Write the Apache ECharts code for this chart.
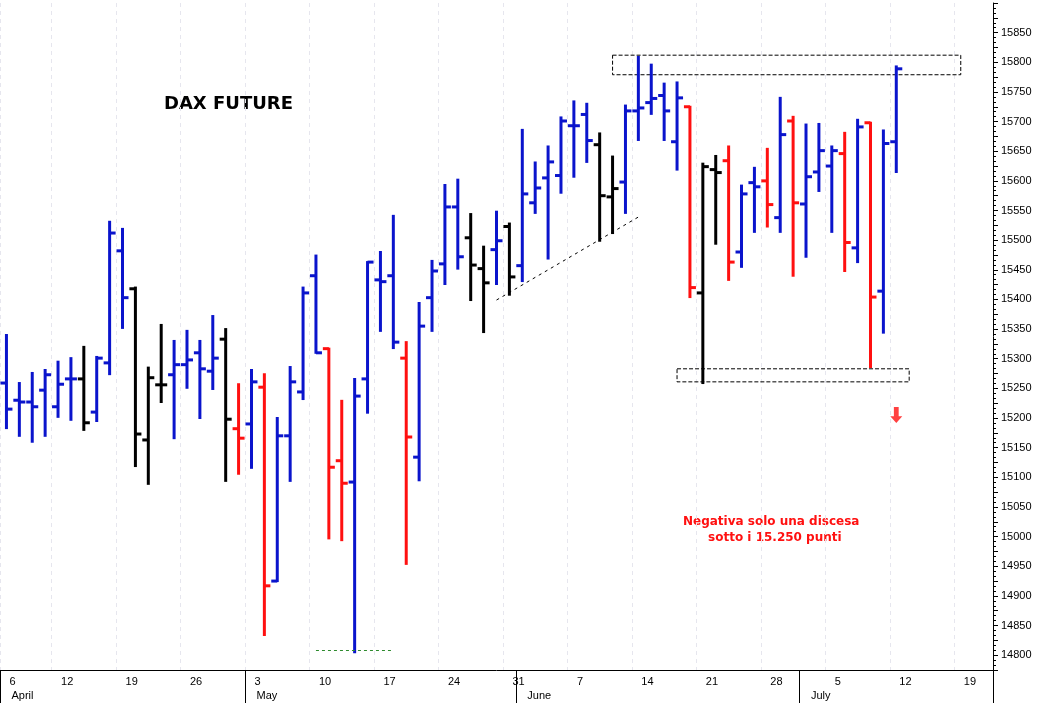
<!DOCTYPE html>
<html>
<head>
<meta charset="utf-8">
<script src="https://cdn.jsdelivr.net/npm/echarts@6/dist/echarts.min.js"></script>
<style>html,body{margin:0;padding:0;background:#fff}#chart{width:1042px;height:703px}</style>
</head>
<body>
<div id="chart"></div>
<script>
// bars: open, close, high, low
var opens  = [15259,15230,15227,15247,15219,15266,15266,15210,15293,15482,15418,15163,15256,15273,15290,15310,15279,15333,15182,
              15190,15252,14925,15170,15244,15440,15317,15128,15092,15266,15433,15440,15301,15134,15403,15460,15556,15504,15452,15484,15523,
              15457,15563,15605,15609,15693,15712,15661,15573,15598,15718,15732,15744,15666,15725,15411,15619,15634,15480,15597,15600,
              15538,15701,15561,15615,15625,15646,15487,15698,15414,15666];
var closes = [15215,15227,15219,15273,15257,15266,15192,15301,15512,15403,15173,15268,15256,15290,15298,15283,15301,15198,15166,
              15261,14917,15170,15261,15411,15310,15117,15090,15237,15463,15430,15328,15168,15355,15448,15556,15472,15458,15428,15499,15438,
              15578,15588,15632,15701,15693,15668,15575,15587,15718,15723,15739,15718,15740,15420,15624,15614,15463,15578,15590,15560,
              15678,15563,15607,15651,15651,15496,15691,15404,15663,15789];
var highs  = [15340,15259,15276,15281,15295,15301,15320,15303,15531,15519,15420,15285,15357,15330,15347,15330,15372,15350,15257,
              15281,15274,15200,15286,15420,15474,15317,15229,15266,15463,15480,15541,15328,15394,15465,15593,15602,15544,15489,15548,15528,
              15686,15631,15658,15707,15734,15730,15680,15641,15727,15809,15796,15764,15766,15725,15629,15642,15658,15592,15622,15654,
              15740,15708,15695,15696,15658,15681,15703,15698,15685,15793];
var lows   = [15183,15170,15160,15170,15202,15197,15180,15195,15274,15352,15119,15089,15227,15166,15251,15200,15249,15094,15106,
              15116,14834,14925,15094,15232,15310,14997,14994,14805,15209,15347,15318,14954,15095,15347,15426,15452,15399,15345,15426,15408,
              15431,15546,15469,15580,15607,15632,15499,15512,15546,15669,15713,15669,15619,15404,15259,15494,15433,15455,15514,15523,
              15514,15440,15472,15583,15514,15448,15463,15286,15344,15615];
var barColors = 'bbbbbbkbbbkkkbbbbkr' + 'brbbbbrrbbbbrbbbbkkbk' + 'bbbbbbkkbbbbbrkkrbbrbrbbbrbrbb';
var palette = {b: '#0a14cc', r: '#ff1010', k: '#000000'};
var monthNames = ['January','February','March','April','May','June','July','August'];

// trading days (weekdays) from 6 April to 21 July 2021
var dates = [];
for (var d = new Date(Date.UTC(2021, 3, 6)); d <= new Date(Date.UTC(2021, 6, 21)); d.setUTCDate(d.getUTCDate() + 1)) {
    var wd = d.getUTCDay();
    if (wd === 0 || wd === 6) continue;
    dates.push(d.toISOString().slice(0, 10));
}

var ohlc = opens.map(function (o, i) { return [i, o, closes[i], highs[i], lows[i]]; });

function isMonday(i) { return i === 0 || new Date(dates[i] + 'T00:00:00Z').getUTCDay() === 1; }
function isMonthStart(i) { return i === 0 || dates[i].slice(5, 7) !== dates[i - 1].slice(5, 7); }

var chart = echarts.init(document.getElementById('chart'));
var axisFont = {fontFamily: 'Liberation Sans, Arial, sans-serif', fontSize: 11, color: '#000'};

chart.setOption({
    animation: false,
    backgroundColor: '#fff',
    grid: {left: 0, right: 49, top: 3, bottom: 33},
    xAxis: [{
        type: 'category',
        data: dates,
        boundaryGap: true,
        axisLine: {lineStyle: {color: '#000'}},
        axisTick: {alignWithLabel: true, length: 4, interval: function (i) { return isMonday(i); }},
        axisLabel: Object.assign({
            interval: function (i) { return isMonday(i); },
            formatter: function (v) { return String(+v.slice(8)); },
            align: 'left', margin: 6, padding: [0, 0, 0, 3]
        }, axisFont),
        splitLine: {show: true, interval: function (i) { return isMonday(i); },
            lineStyle: {color: '#e6e6ee', type: [4, 4], width: 1}}
    }, {
        type: 'category',
        data: dates,
        position: 'bottom',
        boundaryGap: true,
        axisLine: {show: false},
        axisTick: {show: true, length: 33, interval: function (i) { return isMonthStart(i); },
            lineStyle: {color: '#000'}},
        axisLabel: Object.assign({
            interval: function (i) { return isMonthStart(i); },
            formatter: function (v) { return monthNames[+v.slice(5, 7) - 1]; },
            align: 'left', margin: 20, padding: [0, 0, 0, 5]
        }, axisFont),
        splitLine: {show: false}
    }],
    yAxis: {
        type: 'value',
        position: 'right',
        min: 14775, max: 15900, interval: 25,
        axisLine: {show: true, lineStyle: {color: '#000'}},
        axisTick: {show: true, length: 5},
        minorTick: {show: true, splitNumber: 3, length: 3, lineStyle: {color: '#000'}},
        axisLabel: Object.assign({
            margin: 8,
            formatter: function (v) { return (v % 50 === 0 && v < 15900) ? String(v) : ''; }
        }, axisFont),
        splitLine: {show: false}
    },
    series: [{
        type: 'custom',
        data: ohlc,
        encode: {x: 0, y: [1, 2, 3, 4]},
        renderItem: function (params, api) {
            var x = api.value(0);
            var o = api.coord([x, api.value(1)]);
            var c = api.coord([x, api.value(2)]);
            var h = api.coord([x, api.value(3)]);
            var l = api.coord([x, api.value(4)]);
            var col = palette[barColors[params.dataIndex]];
            var st = {stroke: col, lineWidth: 3};
            return {type: 'group', children: [
                {type: 'line', shape: {x1: h[0], y1: h[1] - 1, x2: l[0], y2: l[1] + 1}, style: st},
                {type: 'line', shape: {x1: o[0] - 6, y1: o[1], x2: o[0], y2: o[1]}, style: st},
                {type: 'line', shape: {x1: c[0], y1: c[1], x2: c[0] + 6, y2: c[1]}, style: st}
            ]};
        },
        markArea: {
            silent: true,
            itemStyle: {color: 'rgba(0,0,0,0)', borderColor: '#000', borderWidth: 1, borderType: 'dashed'},
            data: [
                [{coord: [47, 15812]}, {coord: [74, 15779]}],
                [{coord: [52, 15283]}, {coord: [70, 15261]}]
            ]
        },
        markLine: {
            silent: true, symbol: 'none', label: {show: false},
            data: [
                [{coord: [38, 15399], lineStyle: {color: '#000', type: [3, 4], width: 1}}, {coord: [49, 15539]}],
                [{coord: [24, 14808], lineStyle: {color: '#2e8b2e', type: [3, 3], width: 1}}, {coord: [30, 14808]}]
            ]
        }
    }, {
        type: 'scatter',
        data: [[69, 15205]],
        symbol: 'path://M3,0 L7,0 L7,8 L10,8 L5,14 L0,8 L3,8 Z',
        symbolSize: [12, 16],
        itemStyle: {color: '#ff1010'}
    }],
    graphic: [{
        type: 'text', left: 164, top: 95,
        style: {text: 'DAX FUTURE', font: 'bold 18px DejaVu Sans, Verdana, sans-serif', fill: '#000'}
    }, {
        type: 'text', left: 683, top: 514,
        style: {text: 'Negativa solo una discesa\n      sotto i 15.250 punti', font: 'bold 12px DejaVu Sans, Verdana, sans-serif',
            fill: '#ff1010', lineHeight: 16}
    }]
});
</script>
</body>
</html>
